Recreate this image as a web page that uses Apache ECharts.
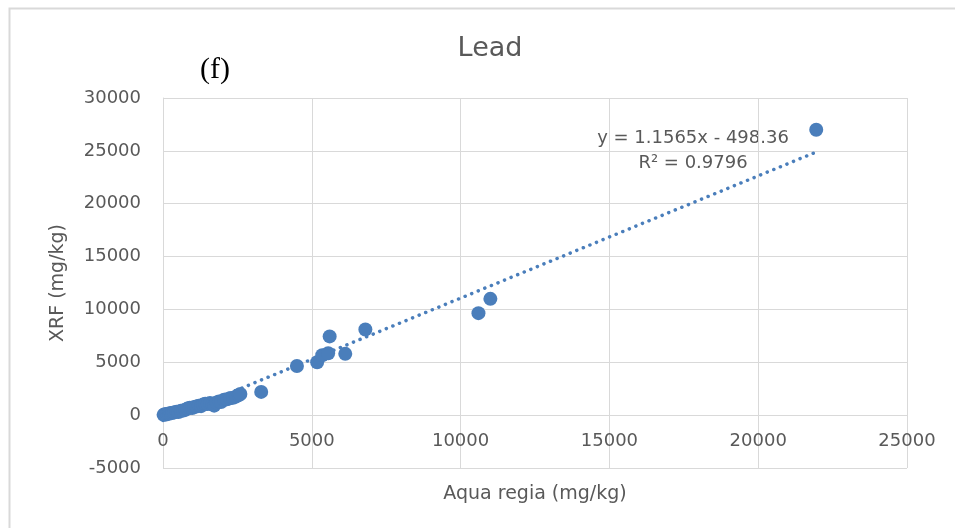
<!DOCTYPE html>
<html>
<head>
<meta charset="utf-8">
<script src="https://cdn.jsdelivr.net/npm/echarts@6/dist/echarts.min.js"></script>
<style>
  html, body { margin: 0; padding: 0; background: #fff; }
  #chart { width: 955px; height: 528px; }
</style>
</head>
<body>
<div id="chart"></div>
<script>
// Aqua regia (x) vs XRF (y), mg/kg
let aquaRegia = [20, 60, 100, 150, 200, 260, 320, 380, 450, 520, 600, 680, 750, 820, 900, 980,
  1050, 1120, 1200, 1280, 1350, 1420, 1500, 1580, 1650, 1720, 1800, 1880, 1950, 2050, 2150,
  2250, 2350, 2450, 2550, 2600,
  3300, 4500, 5180, 5350, 5550, 6125, 5600, 6800, 10600, 11000, 21950]
let xrf = [30, 80, 50, 140, 120, 200, 230, 260, 330, 300, 420, 440, 500, 620, 700, 680,
  780, 820, 900, 850, 1000, 1080, 1050, 1150, 1020, 900, 1200, 1300, 1250, 1450, 1500,
  1600, 1650, 1750, 1900, 2000,
  2200, 4650, 5000, 5670, 5860, 5800, 7450, 8100, 9650, 11000, 27000]

// trendline shown on the chart: y = 1.1565x - 498.36
let slope = 1.1565
let intercept = -498.36
let trendX = [0, 21950]

let xTicks = [0, 5000, 10000, 15000, 20000, 25000]
let yTicks = [-5000, 0, 5000, 10000, 15000, 20000, 25000, 30000]

let points = aquaRegia.map((x, i) => [x, xrf[i]])
let trend = trendX.map(x => [x, slope * x + intercept])

let font = 'DejaVu Sans'
let grey = '#595959'
let gridColor = '#d9d9d9'

let myChart = echarts.init(document.getElementById('chart'))
let option = {
  animation: false,
  backgroundColor: '#fff',
  title: {
    text: 'Lead',
    left: 485, top: 30, textAlign: 'center',
    textStyle: { fontFamily: font, fontSize: 27, fontWeight: 'normal', color: grey }
  },
  graphic: [
    {
      type: 'rect', left: 7, top: 6,
      shape: { width: 1000, height: 600 },
      style: { fill: 'none', stroke: gridColor, lineWidth: 2 }, silent: true
    },
    {
      type: 'text', left: 200, top: 55,
      style: { text: '(f)', font: '30px "Liberation Serif"', fill: '#000' }
    },
    {
      type: 'text', x: 693, y: 126,
      style: { text: 'y = 1.1565x - 498.36\nR² = 0.9796', font: '18px "DejaVu Sans"', fill: grey, align: 'center', lineHeight: 25 }
    }
  ],
  grid: { left: 163, right: 48, top: 98, bottom: 60, outerBoundsMode: 'none', containLabel: false },
  xAxis: {
    type: 'value',
    min: xTicks[0], max: xTicks[xTicks.length - 1], interval: 5000,
    // axis drawn where y = 0, as in the source chart
    offset: -53,
    name: 'Aqua regia (mg/kg)', nameLocation: 'middle', nameGap: 70,
    nameTextStyle: { fontFamily: font, fontSize: 19, color: grey },
    axisLine: { onZero: false, lineStyle: { color: gridColor } },
    axisTick: { show: false },
    axisLabel: { fontFamily: font, fontSize: 18, color: grey, margin: 17, formatter: v => String(v) },
    splitLine: { show: true, lineStyle: { color: gridColor } }
  },
  yAxis: {
    type: 'value',
    min: yTicks[0], max: yTicks[yTicks.length - 1], interval: 5000,
    name: 'XRF (mg/kg)', nameLocation: 'middle', nameGap: 95, nameRotate: 90,
    nameTextStyle: { fontFamily: font, fontSize: 19, color: grey },
    axisLine: { show: true, onZero: false, lineStyle: { color: gridColor } },
    axisTick: { show: false },
    axisLabel: { fontFamily: font, fontSize: 18, color: grey, margin: 22, formatter: v => String(v) },
    splitLine: { show: true, lineStyle: { color: gridColor } }
  },
  series: [
    {
      type: 'line',
      data: trend,
      symbol: 'none',
      z: 1,
      lineStyle: { color: '#4a7ebb', width: 3.5, type: [0.1, 7], cap: 'round' }
    },
    {
      type: 'scatter',
      data: points,
      symbolSize: 14,
      z: 2,
      itemStyle: { color: '#4a7ebb', opacity: 1 }
    }
  ]
}
myChart.setOption(option)
</script>
</body>
</html>
